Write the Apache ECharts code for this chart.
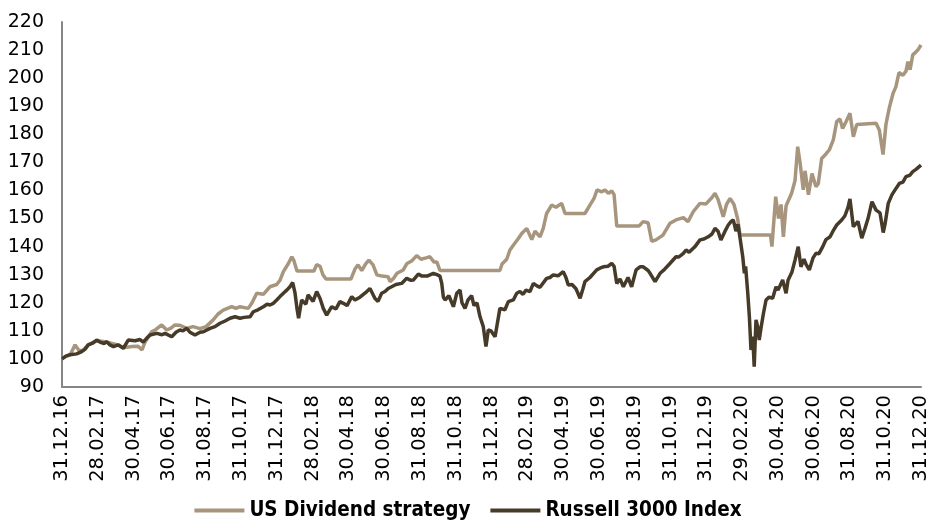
<!DOCTYPE html>
<html>
<head>
<meta charset="utf-8">
<script src="https://cdn.jsdelivr.net/npm/echarts@6/dist/echarts.min.js"></script>
<style>
  html, body { margin: 0; padding: 0; background: #fff; }
  #chart { width: 936px; height: 520px; }
</style>
</head>
<body>
<div id="chart"></div>
<script>
// x positions are months since 31.12.16
const tickLabels = [
  '31.12.16', '28.02.17', '30.04.17', '30.06.17', '31.08.17', '31.10.17',
  '31.12.17', '28.02.18', '30.04.18', '30.06.18', '31.08.18', '31.10.18',
  '31.12.18', '28.02.19', '30.04.19', '30.06.19', '31.08.19', '31.10.19',
  '31.12.19', '29.02.20', '30.04.20', '30.06.20', '31.08.20', '31.10.20',
  '31.12.20'
]

const divMonths = [
  0, 0.22, 0.45, 0.73, 0.95, 1.17, 1.45, 1.96, 2.51, 3.13, 3.41, 3.91, 4.25, 4.47, 4.64,
  5.01, 5.25, 5.57, 5.85, 6.09, 6.31, 6.59, 6.97, 7.32, 7.71, 8.05, 8.45, 8.72, 9.01,
  9.48, 9.72, 9.95, 10.41, 10.62, 10.88, 11.25, 11.62, 12.0, 12.18, 12.37, 12.65, 12.84,
  12.96, 13.13, 13.30, 14.08, 14.23, 14.42, 14.58, 14.75, 16.15, 16.37, 16.54, 16.75,
  16.99, 17.15, 17.38, 17.59, 17.88, 18.22, 18.33, 18.50, 18.72, 19.07, 19.28, 19.56,
  19.82, 20.06, 20.34, 20.56, 20.79, 20.95, 21.12, 24.47, 24.59, 24.85, 25.03, 25.22,
  25.50, 25.69, 25.97, 26.25, 26.43, 26.71, 26.89, 27.08, 27.36, 27.60, 27.92, 28.11,
  29.22, 29.50, 29.73, 29.90, 30.16, 30.34, 30.53, 30.72, 30.85, 31.00, 32.24, 32.47,
  32.75, 32.95, 33.19, 33.58, 33.97, 34.31, 34.72, 34.98, 35.28, 35.65, 35.99, 36.32,
  36.49, 36.66, 36.95, 37.13, 37.33, 37.55, 37.75, 37.89, 39.59, 39.67, 39.88, 40.04,
  40.18, 40.31, 40.46, 40.77, 40.96, 41.11, 41.24, 41.42, 41.52, 41.71, 41.91, 42.13,
  42.26, 42.45, 42.69, 42.88, 43.10, 43.29, 43.47, 43.62, 43.81, 44.03, 44.22, 44.41,
  44.48, 45.49, 45.67, 45.88, 46.04, 46.23, 46.44, 46.60, 46.77, 46.99, 47.16, 47.27,
  47.39, 47.54, 47.66, 47.82, 48.0
]
const divValues = [
  100, 101, 101.4, 105, 103, 103, 105, 106.5, 106, 105, 104, 104.4, 104.5, 103.2, 106,
  109.7, 110.5, 112.1, 110.3, 111, 112.1, 112, 110.9, 111.5, 110.8, 111.5, 113.9, 116, 117.4,
  118.6, 118, 118.6, 118, 120, 123.4, 123, 125.7, 126.5, 128, 131.1, 134, 136.4,
  135, 131.3, 131.3, 131.3, 133.6, 133, 130, 128.5, 128.5, 132, 133.5, 131.5,
  134, 135.2, 133.5, 130, 129.5, 129.3, 127.5, 128.5, 130.5, 131.7, 134, 135,
  136.8, 135.5, 136, 136.4, 134.5, 134.5, 131.5, 131.5, 133.8, 135.5, 138.8, 140.5,
  142.9, 144.7, 146.5, 142.5, 145.5, 143.5, 146.5, 151.8, 154.8, 154, 155.4, 151.8,
  151.8, 154.8, 157.2, 160.2, 159.5, 160.2, 159, 159.8, 158.5, 147.3, 147.3, 148.9,
  148.5, 141.9, 142.4, 144.1, 148.3, 149.5, 150.3, 148.9, 152.5, 155.4, 155.2, 157.5,
  159, 156.8, 150.6, 155, 157.2, 155, 150, 144.1, 144.1, 140, 157.8, 150,
  155, 143.5, 154.5, 159, 163.5, 175.6, 170, 160.2, 167, 158.5, 166, 161.3,
  162.5, 171.4, 173, 174.5, 178, 184.5, 185.5, 182.1, 184.5, 187.5, 179.1, 183.5,
  183.9, 183.9, 181.5, 172.8, 183.5, 189.5, 194.6, 197, 202, 201, 202.5, 205.9,
  203, 208.3, 209, 210, 211.8
]

const rusMonths = [
  0, 0.22, 0.45, 0.82, 1.10, 1.29, 1.47, 1.68, 1.94, 2.12, 2.35, 2.50, 2.68, 2.87, 3.15,
  3.43, 3.70, 4.08, 4.36, 4.54, 4.75, 4.92, 5.29, 5.59, 5.76, 6.13, 6.37, 6.59, 6.76,
  6.97, 7.15, 7.43, 7.71, 7.90, 8.27, 8.55, 8.83, 9.11, 9.39, 9.67, 9.95, 10.17, 10.51,
  10.69, 10.95, 11.25, 11.46, 11.62, 11.81, 12.00, 12.18, 12.37, 12.56, 12.74, 12.89,
  13.02, 13.13, 13.22, 13.39, 13.48, 13.63, 13.75, 13.86, 14.03, 14.23, 14.42, 14.60,
  14.79, 15.07, 15.31, 15.53, 15.72, 15.93, 16.19, 16.37, 16.65, 17.03, 17.21, 17.49,
  17.66, 17.86, 18.05, 18.23, 18.42, 18.66, 18.98, 19.26, 19.50, 19.63, 19.91, 20.12,
  20.40, 20.75, 20.95, 21.12, 21.22, 21.31, 21.40, 21.62, 21.87, 22.06, 22.24, 22.35,
  22.52, 22.69, 22.89, 23.02, 23.19, 23.36, 23.54, 23.69, 23.82, 23.97, 24.08, 24.20,
  24.47, 24.75, 24.94, 25.22, 25.41, 25.59, 25.76, 25.93, 26.15, 26.34, 26.54, 26.71,
  27.08, 27.27, 27.45, 27.72, 28.01, 28.16, 28.29, 28.50, 28.72, 28.95, 29.11, 29.22,
  29.50, 29.88, 30.06, 30.25, 30.51, 30.72, 30.85, 31.00, 31.18, 31.37, 31.63, 31.83,
  32.08, 32.30, 32.48, 32.75, 32.86, 33.14, 33.42, 33.64, 33.97, 34.31, 34.47, 34.72,
  34.87, 35.04, 35.20, 35.37, 35.65, 35.87, 36.11, 36.32, 36.49, 36.66, 36.82, 37.05,
  37.23, 37.38, 37.51, 37.66, 37.77, 37.89, 38.04, 38.13, 38.20, 38.32, 38.41, 38.50,
  38.60, 38.68, 38.78, 38.89, 38.96, 39.06, 39.19, 39.34, 39.51, 39.71, 39.90, 40.01,
  40.27, 40.46, 40.57, 40.79, 40.96, 41.14, 41.29, 41.46, 41.57, 41.76, 41.97, 42.13,
  42.30, 42.51, 42.69, 42.92, 43.08, 43.29, 43.57, 43.75, 43.92, 44.03, 44.22, 44.31,
  44.48, 44.69, 44.87, 45.04, 45.26, 45.49, 45.71, 45.89, 45.99, 46.17, 46.38, 46.55,
  46.79, 46.99, 47.16, 47.39, 47.54, 47.72, 48.0
]
const rusValues = [
  100, 101, 101.5, 101.8, 102.6, 103.5, 105, 105.5, 106.7, 106, 105.5, 106.1, 105, 104.4, 105,
  103.8, 106.7, 106.5, 106.9, 106, 107.5, 108.5, 109.1, 108.6, 109.1, 107.9, 109.5, 110.3, 110,
  110.9, 109.5, 108.5, 109.5, 109.7, 110.9, 111.5, 112.7, 113.5, 114.5, 115, 114.5, 114.8, 115,
  116.8, 117.5, 118.6, 119.5, 119.2, 119.8, 121, 122.2, 123.4, 124.5, 125.7, 127.2,
  123.5, 118, 114.5, 121, 121.6, 119.5, 122.8, 122.8, 120.5, 124, 121.5, 118,
  115.6, 118.6, 117.8, 120.4, 119.8, 119, 122.2, 121, 122, 124, 125.1, 121.5,
  120.5, 123.4, 124, 125.1, 125.7, 126.5, 126.9, 128.7, 128, 128.1, 130.2, 129.5,
  129.5, 130.5, 130, 129.5, 126.9, 122, 121, 122.5, 118.6, 123.4, 124.5, 120,
  118, 121, 122.5, 119, 120, 115, 111.5, 104.4, 110.3, 110, 109, 107.9,
  118, 117.5, 120.4, 121, 123.4, 124, 123, 124.5, 124, 126.9, 126, 125.5,
  128.7, 129, 129.9, 129.6, 131.1, 129, 126.3, 126.5, 125, 121.6, 125, 127.5,
  129, 131.7, 132.3, 132.8, 133, 134, 133, 126.9, 128.5, 125.7, 129, 125.7,
  131.7, 132.8, 132.8, 131.5, 130.5, 127.5, 130.5, 131.7, 134, 136.4, 136.3, 137.6,
  138.8, 138, 139, 140, 142.4, 142.7, 143.5, 144.5, 146.5, 145.5, 142.4, 145.5,
  147.7, 148.9, 149.5, 145.5, 148, 143, 136.4, 130.5, 133, 123.4, 115, 103.2,
  108, 97.2, 113.9, 111, 106.7, 111, 116, 121, 122, 121.6, 125.7, 124.5,
  128.1, 123.4, 128, 131, 135.2, 140, 132.8, 135.5, 133.8, 131.7, 136, 137.6,
  137.5, 140, 142.5, 143.5, 145.5, 147.7, 149.5, 151, 154, 157, 147.1, 146.5,
  149, 143, 146.5, 150, 156, 153, 152, 145, 148, 155.4, 158.5, 160.2,
  162.5, 163, 164.9, 165.5, 166.7, 167.5, 169
]

const zip = (xs, ys) => xs.map((x, i) => [x, ys[i]])

const chart = echarts.init(document.getElementById('chart'))
const font = 'DejaVu Sans'

chart.setOption({
  animation: false,
  backgroundColor: '#fff',
  grid: {
    left: 62,
    right: 15,
    top: 22,
    bottom: 133,
    containLabel: false
  },
  legend: {
    bottom: -6,
    left: 'center',
    itemGap: 20,
    itemWidth: 50,
    itemHeight: 4,
    icon: 'rect',
    textStyle: {
      fontFamily: 'DejaVu Sans Condensed, DejaVu Sans',
      fontWeight: 'bold',
      fontSize: 20.5,
      color: '#000'
    },
    data: ['US Dividend strategy', 'Russell 3000 Index']
  },
  xAxis: {
    type: 'value',
    min: 0,
    max: 48,
    interval: 2,
    splitLine: { show: false },
    axisTick: { show: false },
    axisLine: { show: true, lineStyle: { color: '#868686', width: 2 } },
    axisLabel: {
      rotate: 90,
      margin: 8,
      fontFamily: font,
      fontSize: 19.5,
      color: '#000',
      showMinLabel: true,
      showMaxLabel: true,
      formatter: v => tickLabels[Math.round(v / 2)]
    }
  },
  yAxis: {
    type: 'value',
    min: 90,
    max: 220,
    interval: 10,
    splitLine: { show: false },
    axisTick: { show: false },
    axisLine: { show: true, lineStyle: { color: '#868686', width: 2 } },
    axisLabel: {
      margin: 18,
      fontFamily: font,
      fontSize: 19,
      color: '#000'
    }
  },
  series: [
    {
      name: 'US Dividend strategy',
      type: 'line',
      showSymbol: false,
      color: '#a8957e',
      lineStyle: { width: 3.5, color: '#a8957e' },
      data: zip(divMonths, divValues)
    },
    {
      name: 'Russell 3000 Index',
      type: 'line',
      showSymbol: false,
      color: '#463a29',
      lineStyle: { width: 3.5, color: '#463a29' },
      data: zip(rusMonths, rusValues)
    }
  ]
})
</script>
</body>
</html>
